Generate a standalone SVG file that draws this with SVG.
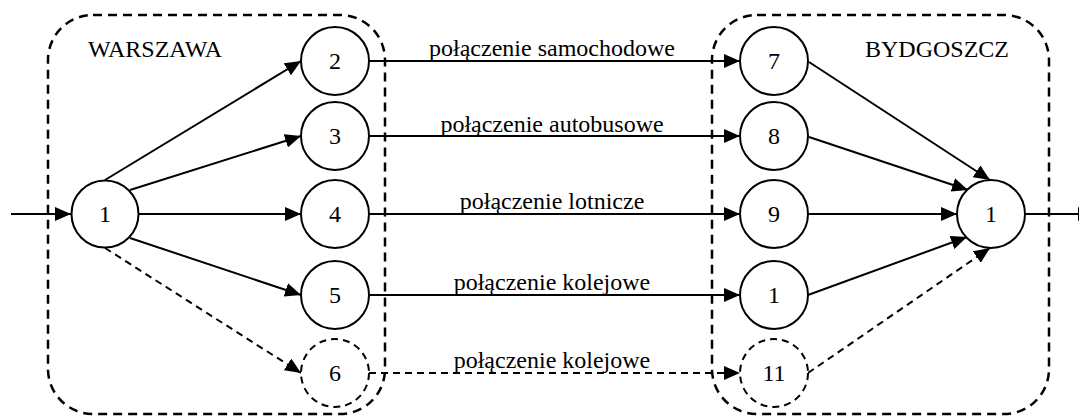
<svg xmlns="http://www.w3.org/2000/svg" width="1079" height="416" viewBox="0 0 1079 416">
  <style>
    .region { fill: none; stroke: #000; stroke-width: 2.5; stroke-dasharray: 9 6; }
    .node { fill: #fff; stroke: #000; stroke-width: 2; }
    .node.opt { stroke-dasharray: 7 5; }
    text { font-family: 'Liberation Serif', 'DejaVu Serif', serif; font-size: 24px; fill: #000; }
    .num { text-anchor: middle; }
    .edge { fill: none; stroke: #000; stroke-width: 2; marker-end: url(#arrow); }
    .edge.opt { stroke-dasharray: 7 5; }
    .elbl { text-anchor: middle; }
  </style>
  <defs>
    <marker id="arrow" viewBox="0 0 16 14" refX="16" refY="7" markerWidth="16" markerHeight="14" markerUnits="userSpaceOnUse" orient="auto">
      <path d="M0,0 L16,7 L0,14 Z" fill="#000"/>
    </marker>
  </defs>
  <rect width="1079" height="416" fill="#fff"/>

  <!-- city regions -->
  <g id="region-warszawa">
    <rect class="region" x="48" y="15" width="337" height="399" rx="45" ry="45"/>
    <text x="88" y="57">WARSZAWA</text>
  </g>
  <g id="region-bydgoszcz">
    <rect class="region" x="712" y="15" width="337" height="399" rx="45" ry="45"/>
    <text x="865" y="57">BYDGOSZCZ</text>
  </g>

  <!-- connectors -->
  <g id="connectors">
    <line class="edge" x1="11" y1="214" x2="71" y2="214"/>
    <line class="edge" x1="105" y1="180" x2="301" y2="61"/>
    <line class="edge" x1="130" y1="190" x2="301" y2="136"/>
    <line class="edge" x1="139" y1="214" x2="301" y2="214"/>
    <line class="edge" x1="130" y1="238" x2="301" y2="295"/>
    <line class="edge opt" x1="105" y1="248" x2="301" y2="373"/>

    <line class="edge" x1="369" y1="61" x2="740" y2="61"/>
    <line class="edge" x1="369" y1="136" x2="740" y2="136"/>
    <line class="edge" x1="369" y1="214" x2="740" y2="214"/>
    <line class="edge" x1="369" y1="295" x2="740" y2="295"/>
    <line class="edge opt" x1="369" y1="373" x2="740" y2="373"/>

    <text class="elbl" x="552" y="56">połączenie samochodowe</text>
    <text class="elbl" x="552" y="132">połączenie autobusowe</text>
    <text class="elbl" x="552" y="209">połączenie lotnicze</text>
    <text class="elbl" x="552" y="290">połączenie kolejowe</text>
    <text class="elbl" x="552" y="368">połączenie kolejowe</text>

    <line class="edge" x1="809" y1="62" x2="990" y2="180"/>
    <line class="edge" x1="809" y1="137" x2="968" y2="190"/>
    <line class="edge" x1="808" y1="214" x2="957" y2="214"/>
    <line class="edge" x1="808" y1="295" x2="967" y2="237"/>
    <line class="edge opt" x1="808" y1="373" x2="990" y2="248"/>

    <line class="edge" x1="1025" y1="214" x2="1094" y2="214"/>
  </g>

  <!-- Warszawa nodes -->
  <g id="n1-start"><circle class="node" cx="105" cy="214" r="33.5"/><text class="num" x="105" y="222">1</text></g>
  <g id="n2"><circle class="node" cx="335" cy="61" r="34"/><text class="num" x="335" y="69">2</text></g>
  <g id="n3"><circle class="node" cx="335" cy="136" r="34"/><text class="num" x="335" y="144">3</text></g>
  <g id="n4"><circle class="node" cx="335" cy="214" r="34"/><text class="num" x="335" y="222">4</text></g>
  <g id="n5"><circle class="node" cx="335" cy="295" r="34"/><text class="num" x="335" y="303">5</text></g>
  <g id="n6"><circle class="node opt" cx="335" cy="373" r="34"/><text class="num" x="335" y="381">6</text></g>

  <!-- Bydgoszcz nodes -->
  <g id="n7"><circle class="node" cx="774" cy="61" r="34"/><text class="num" x="774" y="69">7</text></g>
  <g id="n8"><circle class="node" cx="774" cy="136" r="34"/><text class="num" x="774" y="144">8</text></g>
  <g id="n9"><circle class="node" cx="774" cy="214" r="34"/><text class="num" x="774" y="222">9</text></g>
  <g id="n10"><circle class="node" cx="774" cy="295" r="34"/><text class="num" x="774" y="303">1</text></g>
  <g id="n11"><circle class="node opt" cx="774" cy="373" r="34"/><text class="num" x="774" y="381">11</text></g>
  <g id="n1-end"><circle class="node" cx="991" cy="214" r="34"/><text class="num" x="991" y="222">1</text></g>
</svg>
